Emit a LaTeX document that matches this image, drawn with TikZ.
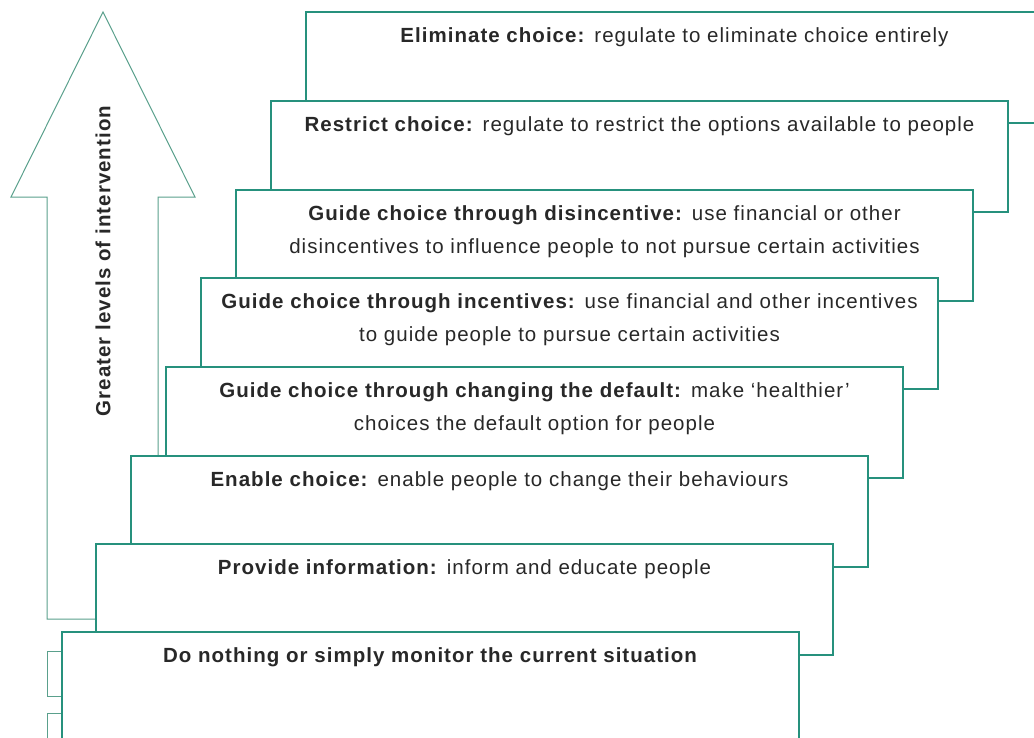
\documentclass[tikz,border=0pt]{standalone}
\usepackage{fontspec}
\setmainfont{Liberation Sans}[LetterSpace=5]
\definecolor{boxteal}{RGB}{38,145,125}
\definecolor{arrowteal}{RGB}{90,160,140}
\definecolor{txt}{RGB}{40,40,40}
\begin{document}
\begin{tikzpicture}[x=1pt,y=-1pt,
  stepbox/.style={draw=boxteal, fill=white, line width=1.2pt, minimum width=737pt, minimum height=111pt, anchor=north west, inner sep=0pt, outer sep=0pt},
  lbl/.style={anchor=north, align=center, font=\fontsize{20.5}{33}\selectfont, text=txt, inner sep=0pt},
  bigarrow/.style={draw=arrowteal, fill=white, line width=1pt, line join=miter},
  frag/.style={draw=arrowteal, fill=white, line width=1pt}]
\useasboundingbox (0,0) rectangle (1034,737);
\clip (0,0) rectangle (1034,737);
% big arrow
\draw[bigarrow] (47,619) -- (47,197) -- (11,197) -- (103,12) -- (195,197) -- (158,197) -- (158,619) -- cycle;
\node[rotate=90, font=\bfseries\fontsize{20.5}{20.5}\selectfont, text=txt] (axis) at (103,261) {Greater levels of intervention};
% steps
\node[stepbox] (b1) at (306,12) {};
\node[lbl] (t1) at ([yshift=-15.5pt]b1.north) {\textbf{Eliminate choice:} regulate to eliminate choice entirely};
\node[stepbox] (b2) at (271,101) {};
\node[lbl] (t2) at ([yshift=-15.5pt]b2.north) {\textbf{Restrict choice:} regulate to restrict the options available to people};
\node[stepbox] (b3) at (236,190) {};
\node[lbl] (t3) at ([yshift=-15.5pt]b3.north) {\textbf{Guide choice through disincentive:} use financial or other\\disincentives to influence people to not pursue certain activities};
\node[stepbox] (b4) at (201,278) {};
\node[lbl] (t4) at ([yshift=-15.5pt]b4.north) {\textbf{Guide choice through incentives:} use financial and other incentives\\to guide people to pursue certain activities};
\node[stepbox] (b5) at (166,367) {};
\node[lbl] (t5) at ([yshift=-15.5pt]b5.north) {\textbf{Guide choice through changing the default:} make ‘healthier’\\choices the default option for people};
\node[stepbox] (b6) at (131,456) {};
\node[lbl] (t6) at ([yshift=-15.5pt]b6.north) {\textbf{Enable choice:} enable people to change their behaviours};
\node[stepbox] (b7) at (96,544) {};
\node[lbl] (t7) at ([yshift=-15.5pt]b7.north) {\textbf{Provide information:} inform and educate people};
\draw[frag] (47,651) rectangle (80,696);
\draw[frag] (47,713) rectangle (80,760);
\node[stepbox] (b8) at (62,632) {};
\node[lbl] (t8) at ([yshift=-15.5pt]b8.north) {\textbf{Do nothing or simply monitor the current situation}};
\end{tikzpicture}
\end{document}
